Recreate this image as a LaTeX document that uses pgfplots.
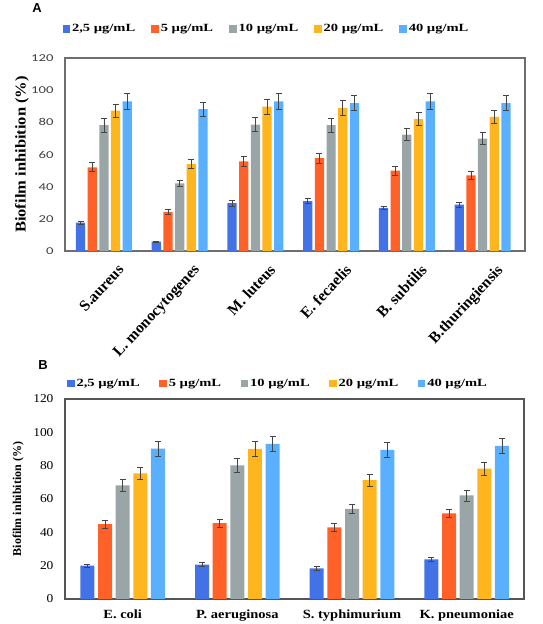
\documentclass[border=0pt]{standalone}
\usepackage{pgfplots}
\pgfplotsset{compat=1.18}
\usepackage{fontspec}
\setmainfont{Liberation Serif}
\newfontfamily\legfont[FakeStretch=1.32]{Liberation Serif}
\newfontfamily\tickafont[FakeStretch=1.4]{Carlito}
\newfontfamily\tickbfont[FakeStretch=1.12]{Liberation Serif}
\newfontfamily\catbfont[FakeStretch=1.16]{Liberation Serif}
\newfontfamily\ylabafont[FakeStretch=1.1]{Liberation Serif}
\newfontfamily\panelfont{Liberation Sans}
\definecolor{cBlue}{HTML}{4272E6}
\definecolor{cOrange}{HTML}{FF6128}
\definecolor{cGray}{HTML}{9AA5A8}
\definecolor{cYellow}{HTML}{FFB61E}
\definecolor{cLight}{HTML}{5AB0FF}
\definecolor{ebc}{HTML}{454545}
\definecolor{frameA}{HTML}{6E6E6E}
\definecolor{frameB}{HTML}{555555}
\pgfplotsset{
  ebar/.style={error bars/.cd, y dir=both, y explicit,
    error bar style={line width=0.8pt, draw=ebc},
    error mark options={rotate=90, line width=0.8pt, mark size=3pt, draw=ebc}},
  sqleg/.style={legend image code/.code={\fill[##1, draw=none] (0pt,-3.5pt) rectangle (7.5pt,4pt);}},
}
\begin{document}
\begin{tikzpicture}[x=1pt,y=1pt]
\useasboundingbox (0,0) rectangle (543,624);
\node[font=\panelfont\bfseries\fontsize{13}{15}\selectfont] at (37,616) {A};
\node[font=\panelfont\bfseries\fontsize{13}{15}\selectfont] at (43,259) {B};
% ---------------- Panel A
\begin{axis}[
  at={(65pt,373pt)}, anchor=south west,
  scale only axis, width=460pt, height=193pt,
  axis line style={draw=frameA, line width=1.2pt},
  ymin=0, ymax=120, ytick={0,20,...,120},
  xmin=-0.514, xmax=5.56,
  xtick={0,1,2,3,4,5},
  xticklabels={S.aureus, L. monocytogenes, M. luteus, E. fecaelis, B. subtilis, B.thuringiensis},
  tick style={draw=none},
  /pgf/number format/assume math mode=true,
  yticklabel style={font=\tickafont\fontsize{10.5}{12}\selectfont, text=black!75, xshift=-8pt},
  xticklabel style={font=\bfseries\fontsize{15.5}{17}\selectfont, rotate=47, anchor=north east, inner sep=0pt, xshift=3pt, yshift=-15pt},
  ylabel={Biofilm inhibition (\%)},
  ylabel style={font=\ylabafont\bfseries\fontsize{15}{17}\selectfont, at={(axis description cs:-0.0935,0.5)}, anchor=center},
  ybar, bar width=0.122,
  sqleg,
  legend columns=5,
  legend style={at={(0.438,1.15)}, anchor=center, draw=none, fill=none,
    font=\legfont\bfseries\fontsize{11}{13}\selectfont,
    /tikz/every even column/.append style={column sep=14pt}},
]
\addplot[fill=cBlue, draw=none, bar shift=-0.308, ebar] coordinates {
 (0,17.6) +- (0,1.0) (1,5.9) +- (0,0.3) (2,29.7) +- (0,1.8) (3,31.0) +- (0,1.5) (4,26.8) +- (0,1.2) (5,28.9) +- (0,1.5)};
\addlegendentry{2,5 µg/mL}
\addplot[fill=cOrange, draw=none, bar shift=-0.154, ebar] coordinates {
 (0,52.0) +- (0,2.8) (1,24.3) +- (0,1.3) (2,55.8) +- (0,3.0) (3,57.7) +- (0,3.0) (4,50.0) +- (0,2.8) (5,47.0) +- (0,2.5)};
\addlegendentry{5 µg/mL}
\addplot[fill=cGray, draw=none, bar shift=0, ebar] coordinates {
 (0,78.2) +- (0,4.2) (1,42.0) +- (0,2.0) (2,78.6) +- (0,4.2) (3,78.2) +- (0,4.2) (4,72.3) +- (0,3.8) (5,69.8) +- (0,3.8)};
\addlegendentry{10 µg/mL}
\addplot[fill=cYellow, draw=none, bar shift=0.154, ebar] coordinates {
 (0,87.2) +- (0,4.0) (1,54.0) +- (0,2.8) (2,89.7) +- (0,4.5) (3,89.0) +- (0,4.6) (4,82.0) +- (0,3.9) (5,83.4) +- (0,4.0)};
\addlegendentry{20 µg/mL}
\addplot[fill=cLight, draw=none, bar shift=0.308, ebar] coordinates {
 (0,93.0) +- (0,4.7) (1,88.2) +- (0,4.5) (2,93.0) +- (0,5.0) (3,92.0) +- (0,4.7) (4,93.0) +- (0,5.0) (5,92.0) +- (0,4.6)};
\addlegendentry{40 µg/mL}
\end{axis}
% ---------------- Panel B
\begin{axis}[
  at={(65pt,25pt)}, anchor=south west,
  scale only axis, width=459pt, height=200pt,
  axis line style={draw=frameB, line width=1.2pt},
  ymin=0, ymax=120, ytick={0,20,...,120},
  xmin=-0.503, xmax=3.50,
  xtick={0,1,2,3},
  xticklabels={E. coli, P. aeruginosa, S. typhimurium, K. pneumoniae},
  tick style={draw=none},
  /pgf/number format/assume math mode=true,
  yticklabel style={font=\tickbfont\fontsize{12}{14}\selectfont, xshift=-8pt},
  xticklabel style={font=\catbfont\bfseries\fontsize{12.5}{14}\selectfont, anchor=north, yshift=-3pt},
  ylabel={Biofilm inhibition (\%)},
  ylabel style={font=\bfseries\fontsize{12}{14}\selectfont, at={(axis description cs:-0.102,0.5)}, anchor=center},
  ybar, bar width=0.122,
  sqleg,
  legend columns=5,
  legend style={at={(0.464,1.075)}, anchor=center, draw=none, fill=none,
    font=\legfont\bfseries\fontsize{11}{13}\selectfont,
    /tikz/every even column/.append style={column sep=17.5pt}},
]
\addplot[fill=cBlue, draw=none, bar shift=-0.308, ebar] coordinates {
 (0,20.0) +- (0,1.0) (1,20.6) +- (0,1.2) (2,18.4) +- (0,1.0) (3,23.8) +- (0,1.2)};
\addlegendentry{2,5 µg/mL}
\addplot[fill=cOrange, draw=none, bar shift=-0.154, ebar] coordinates {
 (0,44.9) +- (0,2.3) (1,45.5) +- (0,2.4) (2,42.9) +- (0,2.3) (3,51.3) +- (0,2.5)};
\addlegendentry{5 µg/mL}
\addplot[fill=cGray, draw=none, bar shift=0, ebar] coordinates {
 (0,68.1) +- (0,3.5) (1,80.2) +- (0,4.2) (2,54.1) +- (0,2.9) (3,62.1) +- (0,3.3)};
\addlegendentry{10 µg/mL}
\addplot[fill=cYellow, draw=none, bar shift=0.154, ebar] coordinates {
 (0,75.3) +- (0,3.8) (1,90.0) +- (0,4.4) (2,71.3) +- (0,3.6) (3,78.2) +- (0,4.0)};
\addlegendentry{20 µg/mL}
\addplot[fill=cLight, draw=none, bar shift=0.308, ebar] coordinates {
 (0,90.2) +- (0,4.4) (1,93.0) +- (0,4.6) (2,89.4) +- (0,4.6) (3,91.8) +- (0,4.6)};
\addlegendentry{40 µg/mL}
\end{axis}
\end{tikzpicture}
\end{document}
